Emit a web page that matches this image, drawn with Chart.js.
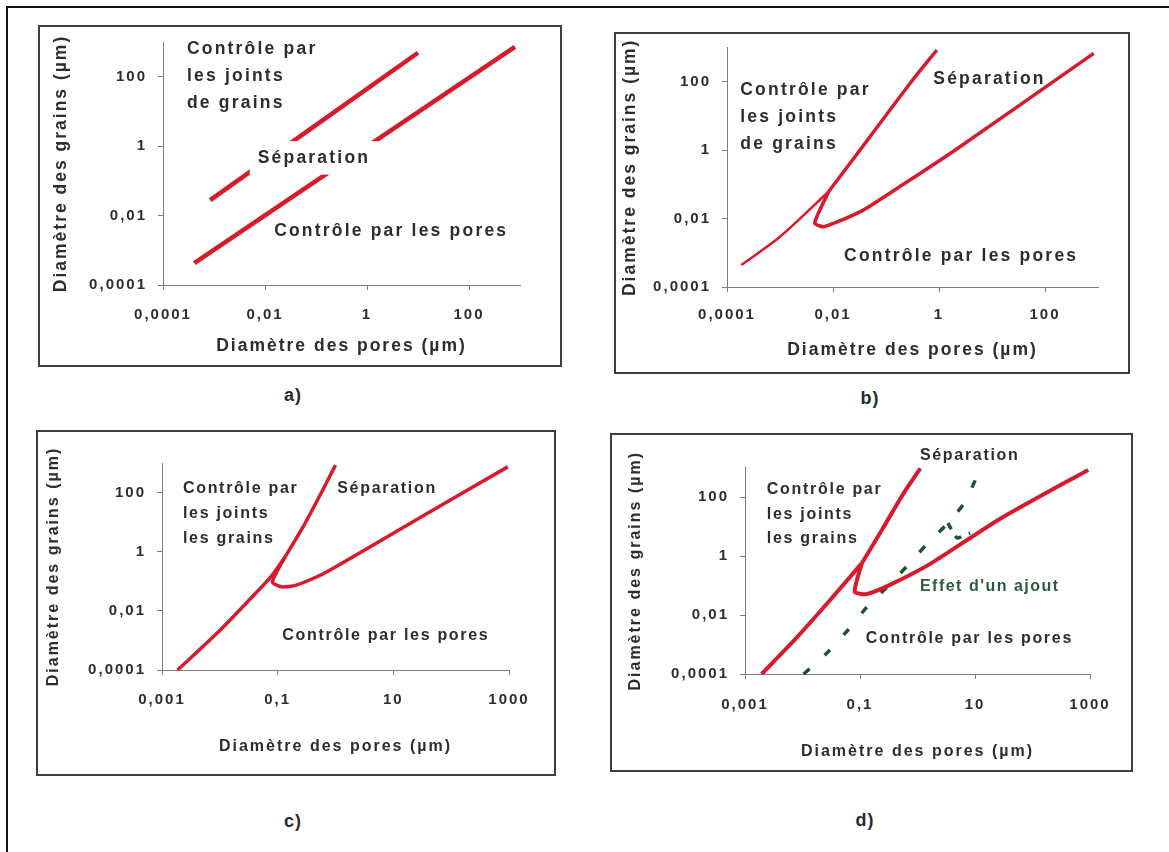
<!DOCTYPE html>
<html lang="fr">
<head>
<meta charset="utf-8">
<title>Contrôle de la croissance granulaire</title>
<script src="https://cdn.jsdelivr.net/npm/chart.js@4.4.1/dist/chart.umd.min.js"></script>
<style>
  html, body { margin: 0; padding: 0; background: #fff; }
  body { width: 1169px; height: 852px; position: relative; overflow: hidden;
         font-family: "Liberation Sans", Arial, Helvetica, sans-serif; }
  .frame-left { position: absolute; left: 6px; top: 6px; width: 2px; height: 846px; background: #111; }
  .frame-top  { position: absolute; left: 6px; top: 6px; width: 1163px; height: 2px; background: #111; }
  .panel { position: absolute; }
  .panel canvas { position: absolute; left: 0; top: 0; }
  .panel .box { position: absolute; left: 0; top: 0; right: 0; bottom: 0;
                border: 2px solid #3e3e3e; pointer-events: none; }
  .tag { position: absolute; font: bold 18px "Liberation Sans", Arial, sans-serif; color: #2a2a2a;
         letter-spacing: 1px; transform: translate(-50%, -50%); }
</style>
</head>
<body>
<div class="frame-left"></div>
<div class="frame-top"></div>

<div class="panel" id="pa" style="left:38px;top:25px;width:524px;height:342px;">
  <canvas id="ca" width="524" height="342"></canvas><div class="box"></div>
</div>
<div class="panel" id="pb" style="left:614px;top:32px;width:516px;height:342px;">
  <canvas id="cb" width="516" height="342"></canvas><div class="box"></div>
</div>
<div class="panel" id="pc" style="left:36px;top:430px;width:520px;height:346px;">
  <canvas id="cc" width="520" height="346"></canvas><div class="box"></div>
</div>
<div class="panel" id="pd" style="left:610px;top:433px;width:523px;height:339px;">
  <canvas id="cd" width="523" height="339"></canvas><div class="box"></div>
</div>

<div class="tag" style="left:293px;top:395px;">a)</div>
<div class="tag" style="left:870px;top:398px;">b)</div>
<div class="tag" style="left:293px;top:821px;">c)</div>
<div class="tag" style="left:865px;top:820px;">d)</div>

<script>
// ---- tick values and labels ----
const gridTicks = [1e-4, 1e-2, 1, 1e2];
const gridTickLabels = ['0,0001', '0,01', '1', '100'];
const poreTicksWide = [1e-3, 1e-1, 10, 1000];
const poreTickLabelsWide = ['0,001', '0,1', '10', '1000'];

// ---- a) two parallel boundaries (pore diameter, grain diameter in µm) ----
const aUpperPore  = [8.4e-4, 10];
const aUpperGrain = [0.028, 490];
const aLowerPore  = [4.1e-4, 794];
const aLowerGrain = [4.3e-4, 724];

// ---- b) ----
const bCommonPore  = [1.86e-4, 1.0e-3, 8.3e-3];
const bCommonGrain = [4.4e-4, 2.95e-3, 0.062];
const bJointPore   = [8.3e-3, 0.045, 0.30, 0.91];
const bJointGrain  = [0.062, 2.0, 100, 850];
const bPoresPore   = [8.3e-3, 4.5e-3, 6.6e-3, 0.0123, 0.038, 0.18, 2.0, 830];
const bPoresGrain  = [0.062, 7.4e-3, 5.8e-3, 8.1e-3, 0.018, 0.085, 1.0, 680];

// ---- c) ----
const cCommonPore  = [1.86e-3, 8.9e-3, 0.032, 0.076, 0.135];
const cCommonGrain = [1e-4, 1.74e-3, 0.023, 0.14, 0.68];
const cJointPore   = [0.135, 0.275, 0.56, 1.0];
const cJointGrain  = [0.68, 6.9, 93, 850];
const cPoresPore   = [0.135, 0.081, 0.117, 0.21, 0.65, 25, 950];
const cPoresGrain  = [0.68, 0.095, 0.065, 0.074, 0.19, 12, 740];

// ---- d) ----
const dCommonPore  = [1.95e-3, 7.2e-3, 0.027, 0.107];
const dCommonGrain = [1e-4, 1.4e-3, 0.025, 0.56];
const dJointPore   = [0.107, 0.24, 0.575, 1.12];
const dJointGrain  = [0.56, 7.6, 135, 930];
const dPoresPore   = [0.107, 0.081, 0.13, 0.33, 1.66, 27, 930];
const dPoresGrain  = [0.56, 0.062, 0.051, 0.105, 0.54, 18, 830];
// boundary shifted by an additive (dashed)
const dAddPore     = [0.0105, 0.0277, 0.0618, 0.132, 0.295, 0.66, 1.46, 3.39, 6.7, 10.5];
const dAddGrain    = [1e-4, 5.6e-4, 3.1e-3, 0.0187, 0.089, 0.46, 2.55, 13.2, 67, 440];
const dAddHookPore = [3.39, 4.1, 4.9, 8.2];
const dAddHookGrain= [13.2, 6.5, 4.1, 6.0];

// ---- styling ----
const FONT = '"Liberation Sans", Arial, Helvetica, sans-serif';
const INK = '#2d2d2d';
const RED = '#d81b2c';
const GREEN = '#1f5135';
const AXIS = '#7d7d7d';

function series(xs, ys) { return xs.map((x, i) => ({ x, y: ys[i] })); }

function line(xs, ys, width, extra) {
  return Object.assign({
    data: series(xs, ys), showLine: true, borderColor: RED, borderWidth: width,
    pointRadius: 0, tension: 0.25, clip: false, borderCapStyle: 'butt', borderJoinStyle: 'round'
  }, extra || {});
}

function axis(o) {
  return {
    type: 'logarithmic', position: o.position, min: o.min, max: o.max, bounds: 'data',
    afterBuildTicks: s => { s.ticks = o.values.map(v => ({ value: v })); },
    afterFit: s => {
      if (o.position === 'left') { s.width = o.size; s.paddingTop = 0; s.paddingBottom = 0; }
      else { s.height = o.size; s.paddingLeft = 0; s.paddingRight = 0; }
    },
    ticks: {
      autoSkip: false, maxRotation: 0, minRotation: 0, padding: o.tickPad, color: INK,
      font: { family: FONT, size: o.tickSize, weight: 'bold' },
      callback: (v, i) => o.labels[i]
    },
    grid: { drawOnChartArea: false, drawTicks: true, tickLength: 5, tickWidth: 1, tickColor: AXIS, color: AXIS },
    border: { display: true, color: AXIS, width: 1 },
    title: { display: true, text: o.title, color: INK,
             font: { family: FONT, size: o.titleSize, weight: 'bold' }, padding: o.titlePad }
  };
}

// text placed in data coordinates inside a panel
const panelText = {
  id: 'panelText',
  beforeDraw(chart, args, opts) { chart.ctx.letterSpacing = (opts.axisSpacing || 0) + 'px'; },
  afterDatasetsDraw(chart, args, opts) {
    const { ctx, scales: { x, y } } = chart;
    (opts.items || []).forEach(it => {
      ctx.save();
      ctx.font = `bold ${it.size}px ${FONT}`;
      ctx.letterSpacing = it.spacing + 'px';
      ctx.textBaseline = 'middle';
      ctx.textAlign = 'left';
      const px = x.getPixelForValue(it.x), py = y.getPixelForValue(it.y);
      it.lines.forEach((txt, i) => {
        const ly = py + i * (it.lineHeight || 0);
        if (it.background) {
          const w = ctx.measureText(txt).width;
          ctx.fillStyle = it.background;
          ctx.fillRect(px - it.pad[0], ly - it.size / 2 - it.pad[1], w + 2 * it.pad[0], it.size + 2 * it.pad[1]);
        }
        ctx.fillStyle = it.color || INK;
        ctx.fillText(txt, px, ly);
      });
      ctx.restore();
    });
  }
};

function panel(id, p) {
  return new Chart(document.getElementById(id), {
    type: 'scatter',
    data: { datasets: p.datasets },
    options: {
      responsive: false, animation: false, devicePixelRatio: 1, events: [],
      layout: { padding: { top: p.padTop, right: p.padRight, left: 0, bottom: 0 } },
      scales: {
        x: axis(Object.assign({ position: 'bottom' }, p.x)),
        y: axis(Object.assign({ position: 'left' }, p.y))
      },
      plugins: {
        legend: { display: false }, tooltip: { enabled: false },
        panelText: { items: p.labels, axisSpacing: p.axisSpacing }
      }
    },
    plugins: [panelText]
  });
}

const xTitle = 'Diamètre des pores (µm)';
const yTitle = 'Diamètre des grains (µm)';

// a)
panel('ca', {
  padTop: 17, padRight: 42, axisSpacing: 2,
  x: { min: 1e-4, max: 1e3, values: gridTicks, labels: gridTickLabels, size: 82, tickPad: 16, tickSize: 15,
       title: xTitle, titleSize: 17.5, titlePad: { top: 0, bottom: 10.5 } },
  y: { min: 1e-4, max: 1e3, values: gridTicks, labels: gridTickLabels, size: 125, tickPad: 11, tickSize: 15,
       title: yTitle, titleSize: 17.5, titlePad: { top: 12.5, bottom: 0 } },
  datasets: [
    line(aUpperPore, aUpperGrain, 4.5),
    line(aLowerPore, aLowerGrain, 4.5)
  ],
  labels: [
    { lines: ['Contrôle par', 'les joints', 'de grains'], x: 2.95e-4, y: 631, size: 17.5, spacing: 2.2, lineHeight: 27 },
    { lines: ['Séparation'], x: 7.2e-3, y: 0.46, size: 17.5, spacing: 2.2, background: '#ffffff', pad: [8, 8] },
    { lines: ['Contrôle par les pores'], x: 0.0151, y: 3.6e-3, size: 17.5, spacing: 2.2 }
  ]
});

// b)
panel('cb', {
  padTop: 15.6, padRight: 32, axisSpacing: 2,
  x: { min: 1e-4, max: 1e3, values: gridTicks, labels: gridTickLabels, size: 87, tickPad: 13.5, tickSize: 15,
       title: xTitle, titleSize: 17.5, titlePad: { top: 0, bottom: 13.5 } },
  y: { min: 1e-4, max: 1e3, values: gridTicks, labels: gridTickLabels, size: 113, tickPad: 11, tickSize: 15,
       title: yTitle, titleSize: 17.5, titlePad: { top: 5.5, bottom: 0 } },
  datasets: [
    line(bCommonPore, bCommonGrain, 2.5),
    line(bJointPore, bJointGrain, 3.5),
    line(bPoresPore, bPoresGrain, 3.5, { tension: 0.2 })
  ],
  labels: [
    { lines: ['Séparation'], x: 0.78, y: 120, size: 17.5, spacing: 2.2 },
    { lines: ['Contrôle par', 'les joints', 'de grains'], x: 1.78e-4, y: 57.5, size: 17.5, spacing: 2.2, lineHeight: 27 },
    { lines: ['Contrôle par les pores'], x: 0.0162, y: 8.1e-4, size: 17.5, spacing: 2.2 }
  ]
});

// c)
panel('cc', {
  padTop: 33, padRight: 47, axisSpacing: 2,
  x: { min: 1e-3, max: 1e3, values: poreTicksWide, labels: poreTickLabelsWide, size: 106, tickPad: 16, tickSize: 15,
       title: xTitle, titleSize: 16, titlePad: { top: 0, bottom: 19.4 } },
  y: { min: 1e-4, max: 1e3, values: gridTicks, labels: gridTickLabels, size: 126, tickPad: 11, tickSize: 15,
       title: yTitle, titleSize: 16, titlePad: { top: 8.4, bottom: 0 } },
  datasets: [
    line(cCommonPore, cCommonGrain, 3.5),
    line(cJointPore, cJointGrain, 3.5),
    line(cPoresPore, cPoresGrain, 3.5, { tension: 0.2 })
  ],
  labels: [
    { lines: ['Contrôle par', 'les joints', 'les grains'], x: 2.3e-3, y: 141, size: 16, spacing: 1.7, lineHeight: 25 },
    { lines: ['Séparation'], x: 1.07, y: 141, size: 16, spacing: 1.7 },
    { lines: ['Contrôle par les pores'], x: 0.12, y: 1.5e-3, size: 16, spacing: 1.7 }
  ]
});

// d)
panel('cd', {
  padTop: 34.5, padRight: 43, axisSpacing: 2,
  x: { min: 1e-3, max: 1e3, values: poreTicksWide, labels: poreTickLabelsWide, size: 98, tickPad: 17, tickSize: 15,
       title: xTitle, titleSize: 16, titlePad: { top: 0, bottom: 10.4 } },
  y: { min: 1e-4, max: 1e3, values: gridTicks, labels: gridTickLabels, size: 135, tickPad: 11, tickSize: 15,
       title: yTitle, titleSize: 16, titlePad: { top: 16.4, bottom: 0 } },
  datasets: [
    line(dCommonPore, dCommonGrain, 4),
    line(dJointPore, dJointGrain, 4),
    line(dPoresPore, dPoresGrain, 4, { tension: 0.2 }),
    line(dAddPore, dAddGrain, 3.5, { borderColor: GREEN, borderDash: [8, 20], tension: 0.2 }),
    line(dAddHookPore, dAddHookGrain, 3.5, { borderColor: GREEN, borderDash: [7, 8], tension: 0.2 })
  ],
  labels: [
    { lines: ['Séparation'], x: 1.1, y: 2630, size: 16, spacing: 1.7 },
    { lines: ['Contrôle par', 'les joints', 'les grains'], x: 2.4e-3, y: 174, size: 16, spacing: 1.7, lineHeight: 24.5 },
    { lines: ["Effet d'un ajout"], x: 1.1, y: 0.095, size: 16, spacing: 1.5, color: '#2c5a3c' },
    { lines: ['Contrôle par les pores'], x: 0.126, y: 1.55e-3, size: 16, spacing: 1.7 }
  ]
});
</script>
</body>
</html>
